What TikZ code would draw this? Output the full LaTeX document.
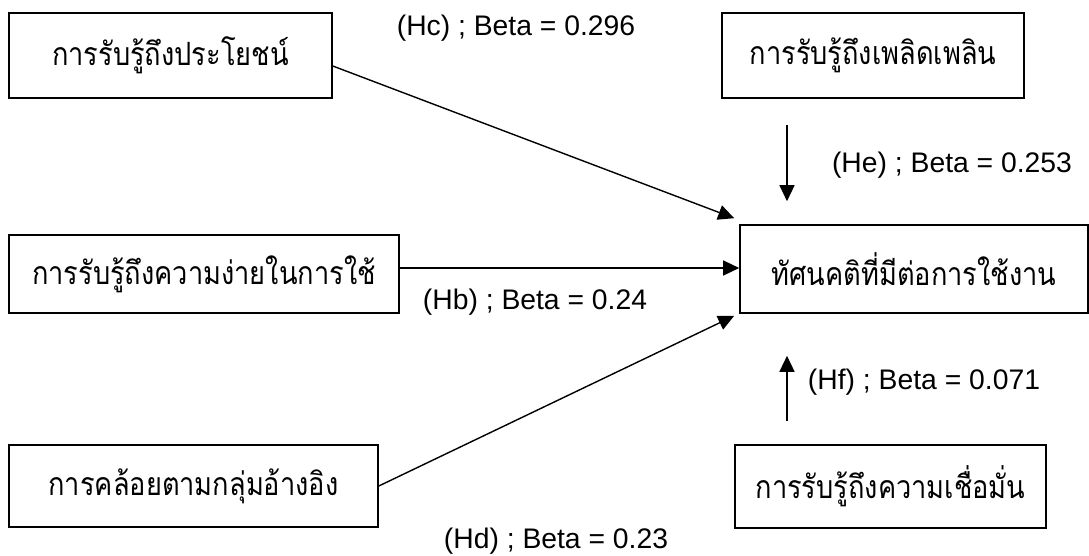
\documentclass[tikz,border=0pt]{standalone}
\usepackage{fontspec}
\setmainfont{Liberation Sans}
\newfontfamily\thaifont[Script=Thai]{Loma}
\usetikzlibrary{arrows.meta,calc}

% Thai captions are set a little taller and narrower than Loma's natural shape
\newcommand{\thaitext}[1]{\scalebox{0.85}[1]{#1}}

\begin{document}
\begin{tikzpicture}[x=1pt,y=-1pt,
  varbox/.style={draw,line width=1.6pt,inner sep=0pt,align=center,
    font=\thaifont\fontsize{32}{34}\selectfont},
  path/.style={line width=1.4pt,-{Triangle[length=16pt,width=15pt]}},
  beta/.style={inner sep=0pt,font=\fontsize{28.3}{30}\selectfont}]
\useasboundingbox (0,0) rectangle (1089,555);

% construct boxes
\node[varbox,minimum width=323pt,minimum height=85pt] (A) at (170.5,55.5) {\thaitext{การรับรู้ถึงประโยชน์}};
\node[varbox,minimum width=302pt,minimum height=85pt] (E) at (873,55.5) {\thaitext{การรับรู้ถึงเพลิดเพลิน}};
\node[varbox,minimum width=390pt,minimum height=78pt] (B) at (204,274) {\thaitext{การรับรู้ถึงความง่ายในการใช้}};
\node[varbox,minimum width=369pt,minimum height=82pt] (D) at (193.5,486) {\thaitext{การคล้อยตามกลุ่มอ้างอิง}};
\node[varbox,minimum width=348pt,minimum height=88pt] (T) at (914,269) {\thaitext{ทัศนคติที่มีต่อการใช้งาน}};
\node[varbox,minimum width=311pt,minimum height=83pt] (F) at (890.5,486.5) {\thaitext{การรับรู้ถึงความเชื่อมั่น}};

% free ends of the vertical paths
\coordinate (Etail) at ($(E.south)+(-86,26)$);
\coordinate (Ehead) at ($(T.north)+(-127,-23)$);
\coordinate (Ftail) at ($(F.north)+(-103.5,-23)$);
\coordinate (Fhead) at ($(T.south)+(-127,42)$);

% paths
\draw[path] ($(A.east)+(0,10.5)$) -- ($(T.north west)+(-5,-6)$);
\draw[path] (B.east |- 0,268) -- (T.west |- 0,268);
\draw[path] (D.east) -- ($(T.south west)+(-5,2)$);
\draw[path] (Etail) -- (Ehead);
\draw[path] (Ftail) -- (Fhead);

% coefficients
\node[beta] (lc) at (516,28) {(Hc) ; Beta = 0.296};
\node[beta] (le) at (952,165) {(He) ; Beta = 0.253};
\node[beta] (lb) at (535,302) {(Hb) ; Beta = 0.24};
\node[beta] (ld) at (556,541) {(Hd) ; Beta = 0.23};
\node[beta] (lf) at (924,382) {(Hf) ; Beta = 0.071};
\end{tikzpicture}
\end{document}
